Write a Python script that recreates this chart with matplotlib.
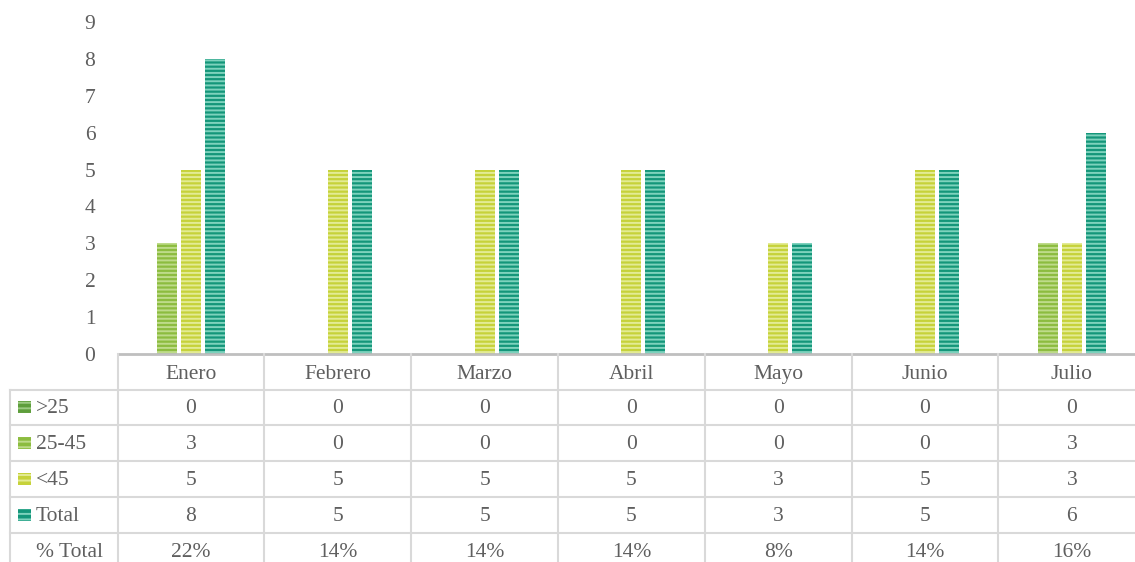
import matplotlib
matplotlib.use("Agg")
import matplotlib.pyplot as plt
import numpy as np

months = ["Enero", "Febrero", "Marzo", "Abril", "Mayo", "Junio", "Julio"]
series_names = [">25", "25-45", "<45", "Total"]
s_gt25 = [0, 0, 0, 0, 0, 0, 0]
s_25_45 = [3, 0, 0, 0, 0, 0, 3]
s_lt45 = [5, 5, 5, 5, 3, 5, 3]
s_total = [8, 5, 5, 5, 3, 5, 6]
pct_total = ["22%", "14%", "14%", "14%", "8%", "14%", "16%"]
yticks = list(range(0, 10))

series = [s_gt25, s_25_45, s_lt45, s_total]
face = ["#5E9E3C", "#8CBC3F", "#C6D23A", "#14967A"]
stripe = ["#9CCB82", "#BEDB8A", "#E3EB94", "#7ED2BD"]

plt.rcParams["font.family"] = ["Liberation Serif", "DejaVu Serif"]
plt.rcParams["hatch.linewidth"] = 1.4
TXT = "#5F5F5F"
GRID = "#D9D9D9"

W, H = 1135, 562
fig = plt.figure(figsize=(W / 100, H / 100), dpi=100)

colw = 146.8
x0 = 117.6
ytop, ybot = 22, 354
ax = fig.add_axes([x0 / W, 1 - ybot / H, 7 * colw / W, (ybot - ytop) / H])
x = np.arange(len(months))
bw = 20 / colw
step = 24 / colw
offsets = [-2, -1, 0, 1]
for i, (vals, fc, sc) in enumerate(zip(series, face, stripe)):
    ax.bar(x + offsets[i] * step, vals, width=bw, color=fc, edgecolor=sc,
           linewidth=0, hatch="----")
ax.set_xlim(-0.5, 6.5)
ax.set_ylim(0, 9)
ax.set_yticks(yticks)
fs = 15.5
ax.set_yticklabels([str(v) for v in yticks], fontsize=fs, color=TXT)
ax.tick_params(axis="y", length=0, pad=16)
ax.set_xticks([])
for s in ["top", "right", "left"]:
    ax.spines[s].set_visible(False)
ax.spines["bottom"].set_color("#BFBFBF")
ax.spines["bottom"].set_linewidth(2)
ax.spines["bottom"].set_zorder(5)

# table overlay in pixel coordinates
tax = fig.add_axes([0, 0, 1, 1])
tax.set_xlim(0, W)
tax.set_ylim(H, 0)
tax.axis("off")

row_edges = [354, 389.5, 425, 461, 497, 533, 569]
col_edges = [x0 + i * colw for i in range(8)]

for cx in col_edges:
    tax.plot([cx, cx], [354, H], color=GRID, lw=1.5, clip_on=True)
tax.plot([10, 10], [389.5, H], color=GRID, lw=1.5)
for ry in row_edges[1:-1]:
    tax.plot([10, W], [ry, ry], color=GRID, lw=1.5)

for j, m in enumerate(months):
    cx = x0 + (j + 0.5) * colw
    tax.text(cx, (row_edges[0] + row_edges[1]) / 2 + 2.5, m, ha="center", va="center",
             fontsize=fs, color=TXT)

rows = [[str(v) for v in s] for s in series] + [pct_total]
labels = series_names + ["% Total"]
for r, (lab, vals) in enumerate(zip(labels, rows)):
    cy = (row_edges[r + 1] + row_edges[r + 2]) / 2
    if r < 4:
        tax.add_patch(plt.Rectangle((18, cy - 6), 13, 12, facecolor=face[r],
                                    edgecolor=stripe[r], lw=0, hatch="---"))
    tax.text(36, cy + 1.5, lab, ha="left", va="center", fontsize=fs, color=TXT)
    for j, v in enumerate(vals):
        cx = x0 + (j + 0.5) * colw
        tax.text(cx, cy + 1.5, v, ha="center", va="center", fontsize=fs, color=TXT)

fig.savefig("out.png", dpi=100)
